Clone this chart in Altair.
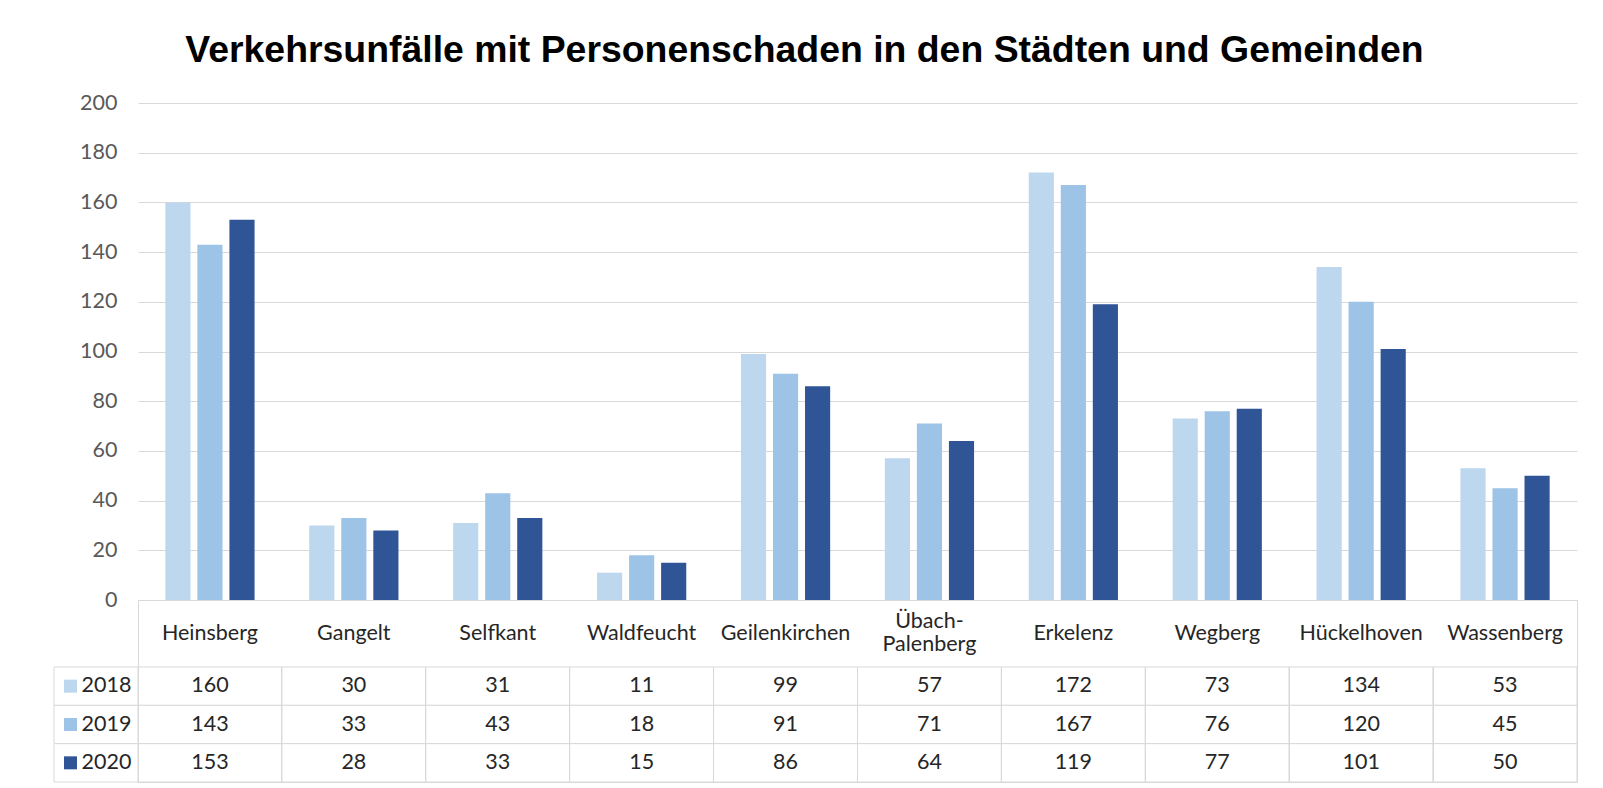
import altair as alt
import pandas as pd

cities = ["Heinsberg", "Gangelt", "Selfkant", "Waldfeucht", "Geilenkirchen",
          "Übach-Palenberg", "Erkelenz", "Wegberg", "Hückelhoven", "Wassenberg"]
header_labels = ["Heinsberg", "Gangelt", "Selfkant", "Waldfeucht", "Geilenkirchen",
                 "Übach-\nPalenberg", "Erkelenz", "Wegberg", "Hückelhoven", "Wassenberg"]
years = ["2018", "2019", "2020"]
v2018 = [160, 30, 31, 11, 99, 57, 172, 73, 134, 53]
v2019 = [143, 33, 43, 18, 91, 71, 167, 76, 120, 45]
v2020 = [153, 28, 33, 15, 86, 64, 119, 77, 101, 50]
colors = ["#bdd7ee", "#9dc3e6", "#2f5597"]
y_ticks = [0, 20, 40, 60, 80, 100, 120, 140, 160, 180, 200]

rows = []
for i, c in enumerate(cities):
    for yr, vals in zip(years, [v2018, v2019, v2020]):
        rows.append({"city": c, "year": yr, "value": vals[i]})
df = pd.DataFrame(rows)
hdr = pd.DataFrame({"city": cities, "label": header_labels})
leg = pd.DataFrame({"year": years})

W = 1439
GRID = "#d9d9d9"
TXT = "#262626"
FS = 21.5

color = alt.Color("year:N", scale=alt.Scale(domain=years, range=colors), legend=None)

bars = alt.Chart(df).mark_bar().encode(
    x=alt.X("city:N", sort=cities,
            scale=alt.Scale(paddingInner=0.38, paddingOuter=0.19), axis=None),
    xOffset=alt.XOffset("year:N", sort=years, scale=alt.Scale(paddingInner=0.215)),
    y=alt.Y("value:Q", scale=alt.Scale(domain=[0, 200]),
            axis=alt.Axis(values=y_ticks, title=None, domain=False, ticks=False,
                          labelPadding=21, gridColor=GRID, labelColor="#595959",
                          labelFont="Lato", labelFontSize=FS)),
    color=color,
).properties(width=W, height=497, view={"stroke": "transparent"})

xt = alt.X("city:N", sort=cities,
           scale=alt.Scale(paddingInner=0, paddingOuter=0),
           axis=alt.Axis(orient="top", labels=False, ticks=False, domain=False,
                         grid=True, gridColor=GRID, bandPosition=0, title=None))
yt = alt.Y("year:N", sort=years,
           scale=alt.Scale(domain=years, range=[67, 182], paddingInner=0, paddingOuter=0),
           axis=alt.Axis(title=None, ticks=False, domain=False, labelPadding=7,
                         labelFont="Lato", labelFontSize=FS, labelColor=TXT, grid=False))

cells = alt.Chart(df).mark_rect(fill="white", stroke=GRID, strokeWidth=1).encode(x=xt, y=yt)
vals = alt.Chart(df).mark_text(font="Lato", fontSize=FS, color=TXT).encode(
    x=alt.X("city:N", sort=cities), y=alt.Y("year:N", sort=years), text="value:Q")
hdr_single = alt.Chart(hdr).transform_filter(
    "indexof(datum.label, '\\n') < 0"
).mark_text(font="Lato", fontSize=FS, color=TXT, baseline="middle").encode(
    x=alt.X("city:N", sort=cities), y=alt.value(33.5), text="label:N")
hdr_multi = alt.Chart(hdr).transform_filter(
    "indexof(datum.label, '\\n') >= 0"
).mark_text(font="Lato", fontSize=FS, color=TXT, lineBreak="\n", lineHeight=23,
            baseline="middle", dy=-11.5).encode(
    x=alt.X("city:N", sort=cities), y=alt.value(33.5), text="label:N")
leg_cells = alt.Chart(leg).mark_rect(fill="white", stroke=GRID, strokeWidth=1).encode(
    x=alt.value(-84), x2=alt.value(0), y=alt.Y("year:N", sort=years))
leg_sq = alt.Chart(leg).mark_square(size=169, opacity=1, filled=True).encode(
    x=alt.value(-67.5), y=alt.Y("year:N", sort=years), color=color)

table = alt.layer(cells, vals, hdr_single, hdr_multi, leg_cells, leg_sq).properties(
    width=W, height=182, view={"stroke": GRID})

chart = alt.vconcat(bars, table, spacing=0, bounds="flush").resolve_scale(
    x="independent", y="independent"
).properties(
    title=alt.TitleParams(
        text="Verkehrsunfälle mit Personenschaden in den Städten und Gemeinden",
        font="Liberation Sans", fontSize=37.4, fontWeight="bold", color="black",
        anchor="middle", offset=22, dx=-11),
    padding={"left": 45, "top": 24, "right": 5, "bottom": 0},
).configure(background="white")

chart.save("out.html", embed_options={"renderer": "svg", "actions": False})
